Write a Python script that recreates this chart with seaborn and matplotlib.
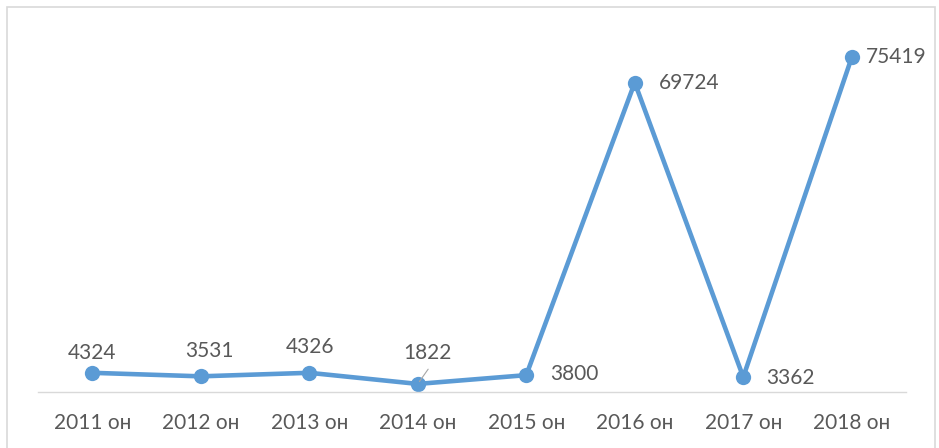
import pandas as pd
import numpy as np
import matplotlib.pyplot as plt
from matplotlib.patches import Rectangle
import seaborn as sns

years = ["2011 он", "2012 он", "2013 он", "2014 он", "2015 он", "2016 он", "2017 он", "2018 он"]
values = [4324, 3531, 4326, 1822, 3800, 69724, 3362, 75419]
# where each data label sits relative to its point (pixels), and its alignment
label_offsets = [(0, 20), (9, 25), (1, 26), (10, 31), (24, 1), (24, 0), (23, -1), (14, 0)]
label_ha = ["center", "center", "center", "center", "left", "left", "left", "left"]

df = pd.DataFrame({"year": years, "value": values})

sns.set_style("white")
plt.rcParams['font.family'] = ['Lato', 'DejaVu Sans']

fig = plt.figure(figsize=(9.39, 4.48), dpi=100)
ax = fig.add_axes([38 / 939, 1 - 392 / 448, (906 - 38) / 939, (392 - 37) / 448])

blue = "#5B9BD5"
sns.lineplot(data=df, x="year", y="value", sort=False, color=blue, linewidth=3.3,
             marker="o", markersize=11, markeredgewidth=0, ax=ax)

for i, (v, off, ha) in enumerate(zip(values, label_offsets, label_ha)):
    ax.annotate(str(v), (i, v), xytext=off, textcoords="offset pixels",
                ha=ha, va="center", fontsize=15, color="#595959")

# leader line for 1822
ax.annotate("", (3, values[3]), xytext=(12, 17), textcoords="offset pixels",
            arrowprops=dict(arrowstyle="-", color="#a6a6a6", lw=0.8))

ax.set_xlim(-0.5, len(years) - 0.5)
ax.set_ylim(0, 80000)
ax.set_xlabel("")
ax.set_ylabel("")
ax.set_yticks([])
ax.tick_params(axis="x", length=0, pad=15, labelsize=15, labelcolor="#595959")
for s in ["top", "right", "left"]:
    ax.spines[s].set_visible(False)
ax.spines["bottom"].set_color("#d9d9d9")
ax.spines["bottom"].set_linewidth(1)

# chart border
fig.patches.append(Rectangle((7 / 939, -0.05), (935 - 7) / 939, 1 + 0.05 - 7 / 448,
                             transform=fig.transFigure, fill=False,
                             edgecolor="#d9d9d9", linewidth=1.2))

fig.savefig("out.png", dpi=100)
